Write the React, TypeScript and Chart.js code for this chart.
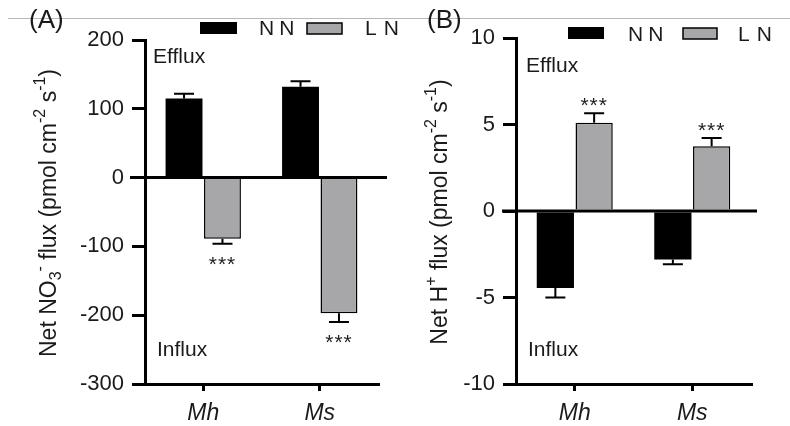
import React, { useEffect, useRef } from 'react';
import { Chart, registerables } from 'chart.js';

Chart.register(...registerables);

// ---------- data ----------
const categories = ['Mh', 'Ms'];
const legendNames = ['NN', 'LN'];

// Panel A: Net NO3- flux
const no3NN = [115, 132];
const no3NNErr = [7, 8];
const no3LN = [-89, -197];
const no3LNErr = [7, 13];
const no3Sig = ['***', '***']; // significance on LN bars
const no3Min = -300;
const no3Max = 200;
const no3Step = 100;

// Panel B: Net H+ flux
const hNN = [-4.45, -2.8];
const hNNErr = [0.55, 0.28];
const hLN = [5.1, 3.75];
const hLNErr = [0.55, 0.47];
const hSig = ['***', '***'];
const hMin = -10;
const hMax = 10;
const hStep = 5;

// title segments: [text, kind] kind: n normal, sub, sup
const no3Title: [string, string][] = [
  ['Net NO', 'n'], ['3', 'sub'], ['-', 'sup'], [' flux (pmol cm', 'n'], ['-2', 'sup'], [' s', 'n'], ['-1', 'sup'], [')', 'n'],
];
const hTitle: [string, string][] = [
  ['Net H', 'n'], ['+', 'sup'], [' flux (pmol cm', 'n'], ['-2', 'sup'], [' s', 'n'], ['-1', 'sup'], [')', 'n'],
];

const FONT = "'Liberation Sans', Arial, Helvetica, sans-serif";
const GRAY = '#a7a7aa';
const TEXT = '#1a1a1a';

type PanelCfg = {
  label: string;
  nn: number[]; nnErr: number[];
  ln: number[]; lnErr: number[];
  sig: string[];
  min: number; max: number; step: number;
  title: [string, string][];
  canvasW: number;
  padTop: number; padRight: number; yWidth: number;
  titleX: number; titleY: number;
  zeroLeft: number; zeroRight: number;
  legend: { nnBox: number[]; nnText: number; lnBox: number[]; lnText: number; base: number };
  efflux: number[]; influx: number[];
  panelLabelX: number;
};

const panelA: PanelCfg = {
  label: '(A)',
  nn: no3NN, nnErr: no3NNErr, ln: no3LN, lnErr: no3LNErr, sig: no3Sig,
  min: no3Min, max: no3Max, step: no3Step,
  title: no3Title,
  canvasW: 400,
  padTop: 40, padRight: 22, yWidth: 145,
  titleX: 50, titleY: 213,
  zeroLeft: 15, zeroRight: 9,
  legend: { nnBox: [200, 22, 37, 12], nnText: 259, lnBox: [307, 23, 35, 11], lnText: 365, base: 35 },
  efflux: [8, 63], influx: [12, 356],
  panelLabelX: 29,
};

const panelB: PanelCfg = {
  label: '(B)',
  nn: hNN, nnErr: hNNErr, ln: hLN, lnErr: hLNErr, sig: hSig,
  min: hMin, max: hMax, step: hStep,
  title: hTitle,
  canvasW: 390,
  padTop: 38, padRight: 39, yWidth: 116,
  titleX: 41, titleY: 212,
  zeroLeft: 14, zeroRight: 6,
  legend: { nnBox: [168, 27, 36, 12], nnText: 228, lnBox: [283, 28, 34, 11], lnText: 338, base: 41 },
  efflux: [10, 72], influx: [12, 356],
  panelLabelX: 27,
};

function makePlugin(cfg: PanelCfg) {
  return {
    id: 'panelExtras',
    afterDatasetsDraw(chart: any) {
      const ctx = chart.ctx as CanvasRenderingContext2D;
      const ca = chart.chartArea;
      const y = chart.scales.y;
      ctx.save();
      // zero line
      const y0 = y.getPixelForValue(0);
      ctx.strokeStyle = '#000';
      ctx.lineWidth = 3;
      ctx.beginPath();
      ctx.moveTo(ca.left - cfg.zeroLeft, y0);
      ctx.lineTo(ca.right + cfg.zeroRight, y0);
      ctx.stroke();

      // error bars + stars
      const errs = [cfg.nnErr, cfg.lnErr];
      chart.data.datasets.forEach((ds: any, di: number) => {
        const meta = chart.getDatasetMeta(di);
        meta.data.forEach((bar: any, i: number) => {
          const v = ds.data[i];
          const e = errs[di][i];
          const s = v >= 0 ? 1 : -1;
          const yEnd = y.getPixelForValue(v + s * e);
          ctx.strokeStyle = '#000';
          ctx.lineWidth = 2;
          ctx.beginPath();
          ctx.moveTo(bar.x, bar.y);
          ctx.lineTo(bar.x, yEnd);
          ctx.moveTo(bar.x - 10, yEnd);
          ctx.lineTo(bar.x + 10, yEnd);
          ctx.stroke();
          if (di === 1 && cfg.sig[i]) {
            ctx.fillStyle = '#222';
            ctx.font = `21px ${FONT}`;
            ctx.textAlign = 'center';
            ctx.textBaseline = 'alphabetic';
            (ctx as any).letterSpacing = '1px';
            const base = s > 0 ? yEnd - 1 : yEnd + 27;
            ctx.fillText(cfg.sig[i], bar.x, base);
            (ctx as any).letterSpacing = '0px';
          }
        });
      });

      // Efflux / Influx
      ctx.fillStyle = TEXT;
      ctx.font = `21px ${FONT}`;
      ctx.textAlign = 'left';
      ctx.textBaseline = 'alphabetic';
      ctx.fillText('Efflux', ca.left + cfg.efflux[0], cfg.efflux[1]);
      ctx.fillText('Influx', ca.left + cfg.influx[0], cfg.influx[1]);

      // panel label
      ctx.font = `26px ${FONT}`;
      ctx.fillText(cfg.label, cfg.panelLabelX, 28);

      // legend
      const L = cfg.legend;
      ctx.fillStyle = '#000';
      ctx.fillRect(L.nnBox[0], L.nnBox[1], L.nnBox[2], L.nnBox[3]);
      ctx.fillStyle = GRAY;
      ctx.fillRect(L.lnBox[0], L.lnBox[1], L.lnBox[2], L.lnBox[3]);
      ctx.strokeStyle = '#000';
      ctx.lineWidth = 1.5;
      ctx.strokeRect(L.lnBox[0], L.lnBox[1], L.lnBox[2], L.lnBox[3]);
      ctx.fillStyle = TEXT;
      ctx.font = `21px ${FONT}`;
      (ctx as any).letterSpacing = '5px';
      ctx.fillText(legendNames[0], L.nnText, L.base);
      (ctx as any).letterSpacing = '7px';
      ctx.fillText(legendNames[1], L.lnText, L.base);
      (ctx as any).letterSpacing = '0px';

      // y title with sub/superscripts
      const fs = 23;
      const small = Math.round(fs * 0.68);
      const segs = cfg.title.map(([t, k]) => {
        ctx.font = `${k === 'n' ? fs : small}px ${FONT}`;
        return { t, k, w: ctx.measureText(t).width };
      });
      const total = segs.reduce((a, s) => a + s.w, 0);
      ctx.translate(cfg.titleX, cfg.titleY);
      ctx.rotate(-Math.PI / 2);
      ctx.textBaseline = 'middle';
      ctx.textAlign = 'left';
      ctx.fillStyle = TEXT;
      let x = -total / 2;
      segs.forEach((s) => {
        ctx.font = `${s.k === 'n' ? fs : small}px ${FONT}`;
        const dy = s.k === 'sub' ? fs * 0.3 : s.k === 'sup' ? -fs * 0.42 : 0;
        ctx.fillText(s.t, x, dy);
        x += s.w;
      });
      ctx.restore();
    },
  };
}

function Panel({ cfg, left }: { cfg: PanelCfg; left: number }) {
  const ref = useRef<HTMLCanvasElement | null>(null);
  useEffect(() => {
    if (!ref.current) return;
    const chart = new Chart(ref.current, {
      type: 'bar',
      data: {
        labels: categories,
        datasets: [
          { label: legendNames[0], data: cfg.nn, backgroundColor: '#000', borderColor: '#000', borderWidth: 0 },
          { label: legendNames[1], data: cfg.ln, backgroundColor: GRAY, borderColor: '#000', borderWidth: 1.5 },
        ],
      },
      options: {
        animation: false,
        responsive: false,
        maintainAspectRatio: false,
        events: [],
        layout: { padding: { left: 0, top: cfg.padTop, right: cfg.padRight, bottom: 0 } },
        datasets: { bar: { categoryPercentage: 0.66, barPercentage: 0.96 } },
        plugins: { legend: { display: false }, tooltip: { enabled: false } },
        scales: {
          x: {
            grid: { offset: false, drawOnChartArea: false, drawTicks: true, tickLength: 7, color: '#000', lineWidth: 3 },
            border: { display: true, color: '#000', width: 3 },
            ticks: { font: { family: FONT, size: 23, style: 'italic' }, color: TEXT, padding: 9 },
            afterFit: (s: any) => { s.height = 42; },
          },
          y: {
            min: cfg.min,
            max: cfg.max,
            ticks: { stepSize: cfg.step, font: { family: FONT, size: 22 }, color: TEXT, padding: 8 },
            grid: { drawOnChartArea: false, drawTicks: true, tickLength: 13, color: '#000', lineWidth: 3 },
            border: { display: true, color: '#000', width: 3 },
            afterFit: (s: any) => { s.width = cfg.yWidth; },
          },
        },
      } as any,
      plugins: [makePlugin(cfg)],
    });
    return () => chart.destroy();
  }, [cfg]);
  return (
    <canvas
      ref={ref}
      width={cfg.canvasW}
      height={426}
      style={{ position: 'absolute', left, top: 0, width: cfg.canvasW, height: 426 }}
    />
  );
}

export default function App() {
  return (
    <div style={{ position: 'absolute', left: 0, top: 0, width: 790, height: 426, background: '#fff', overflow: 'hidden' }}>
      <div style={{ position: 'absolute', left: 8, top: 18, width: 782, height: 1, background: '#b8b8b8' }} />
      <Panel cfg={panelA} left={0} />
      <Panel cfg={panelB} left={400} />
    </div>
  );
}
